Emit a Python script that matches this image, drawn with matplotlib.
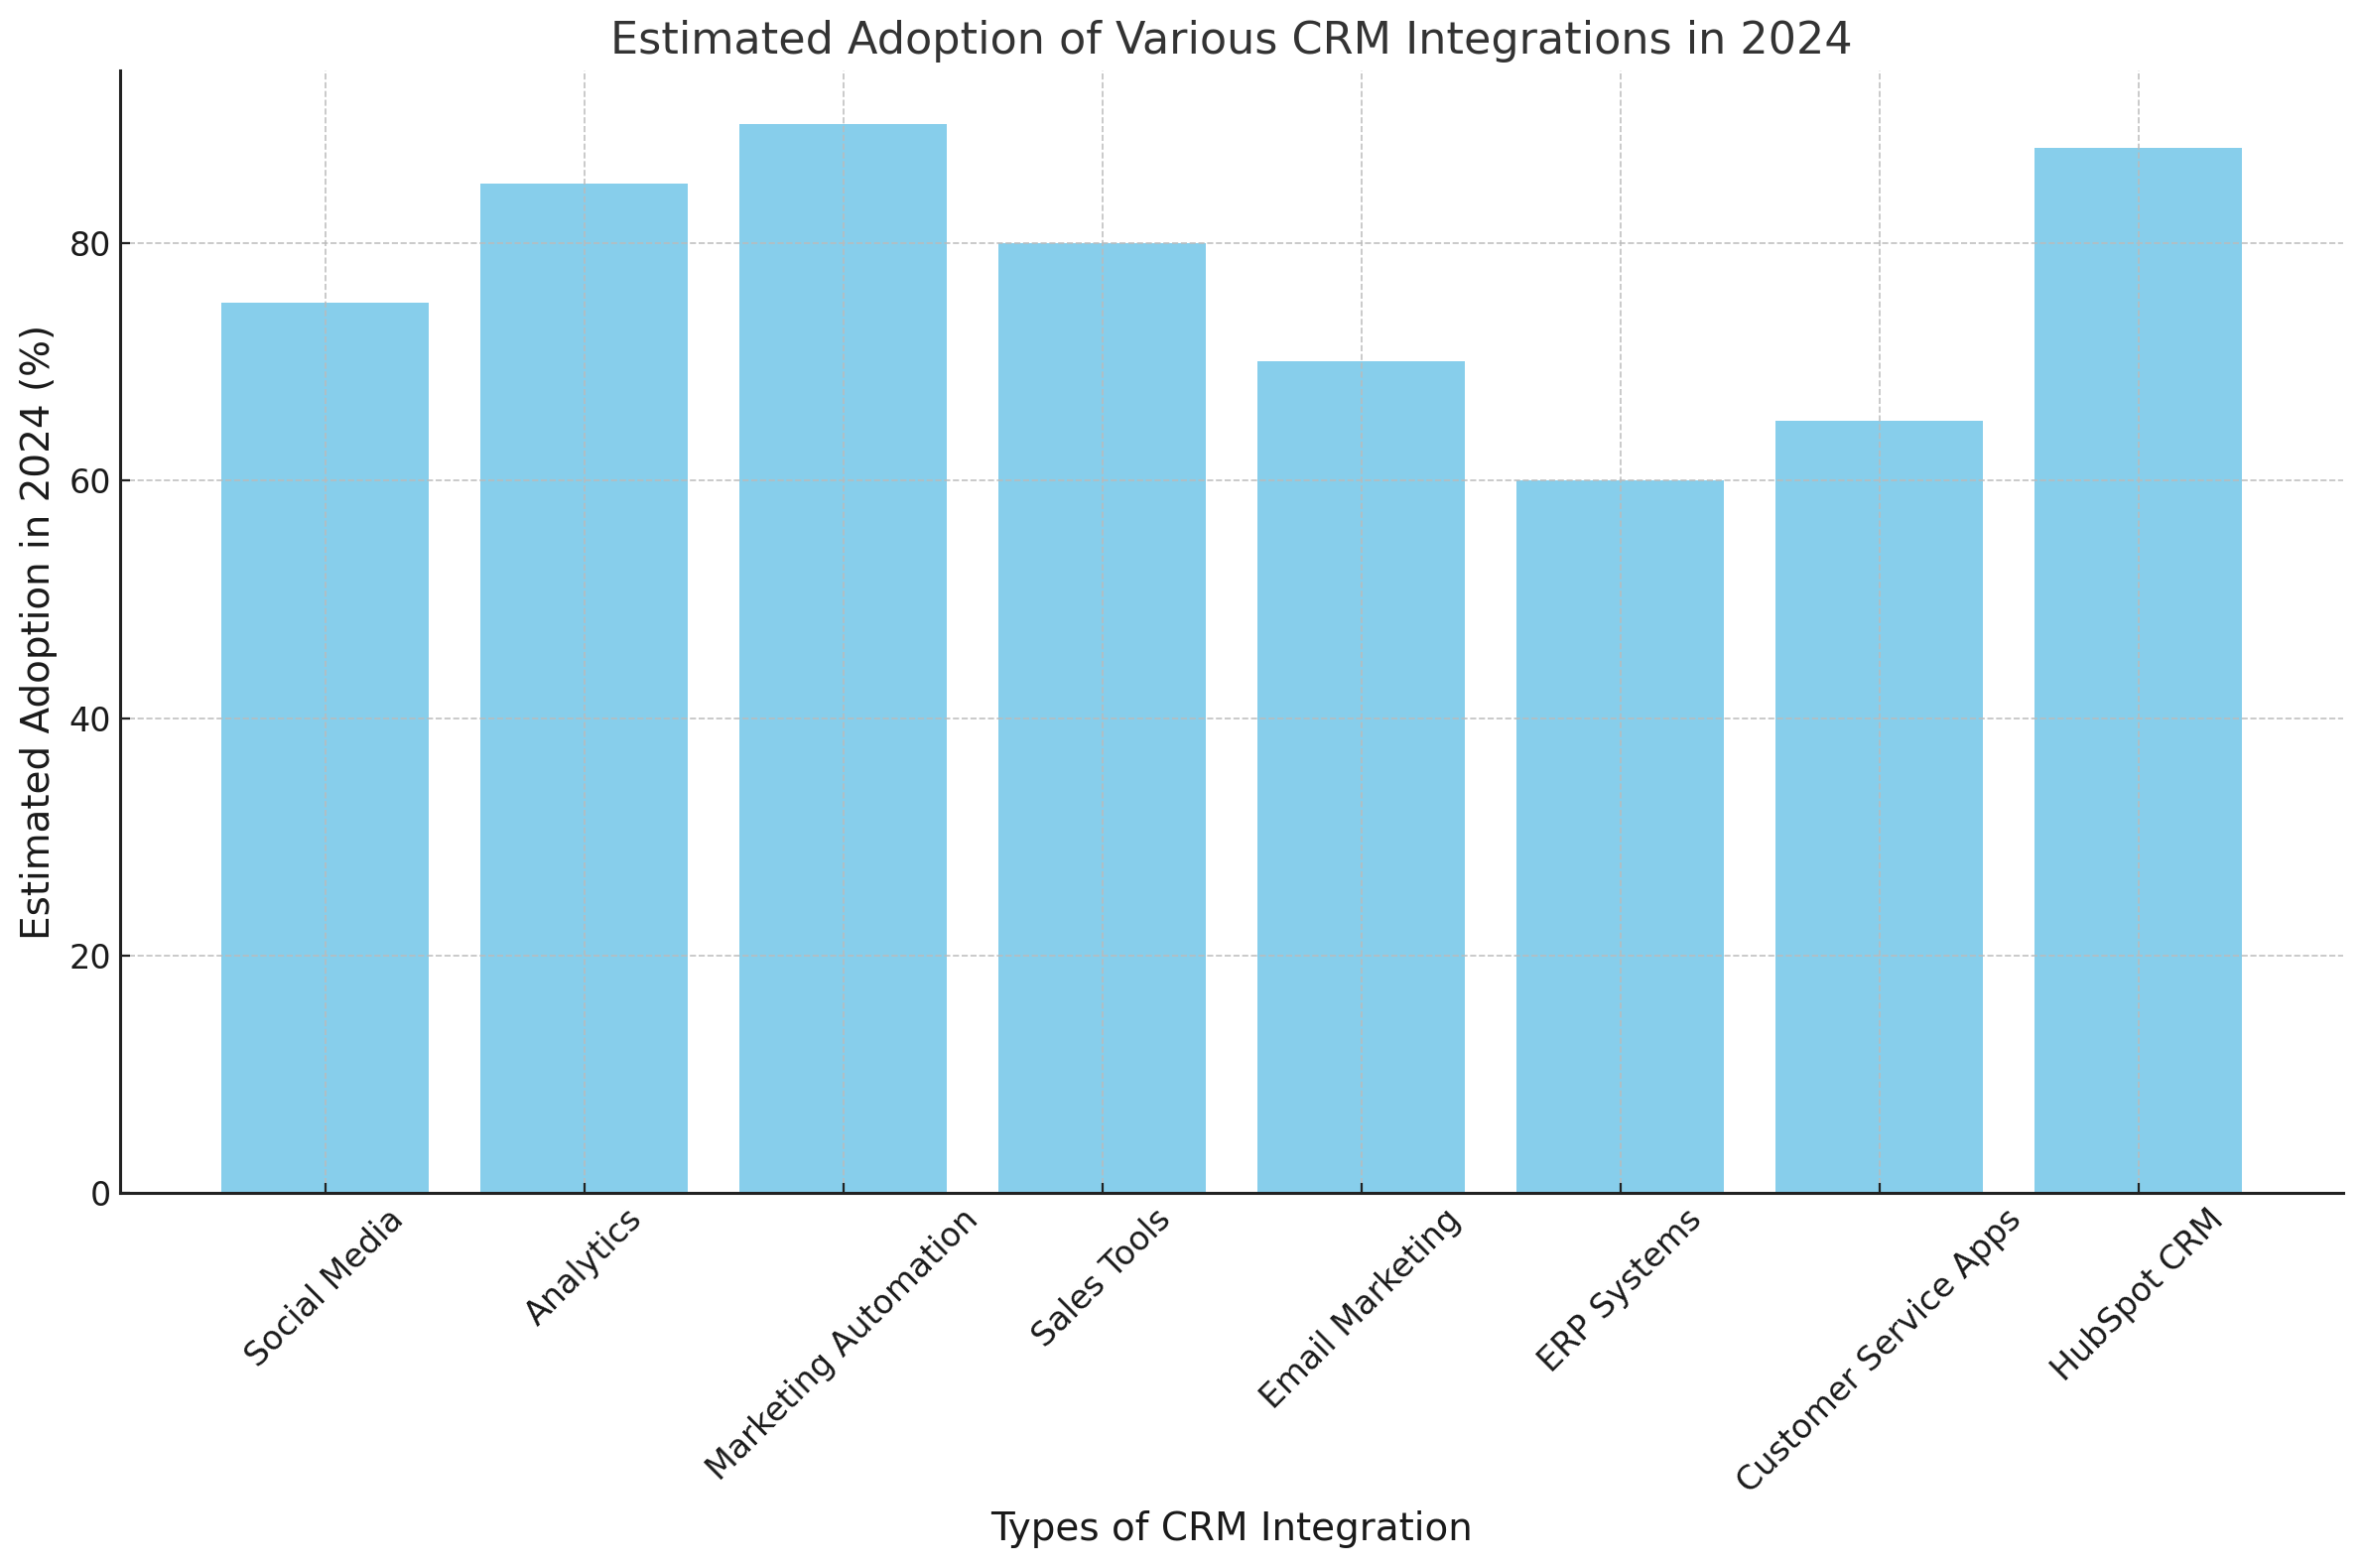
import matplotlib.pyplot as plt

categories = ['Social Media', 'Analytics', 'Marketing Automation', 'Sales Tools',
              'Email Marketing', 'ERP Systems', 'Customer Service Apps', 'HubSpot CRM']
adoption = [75, 85, 90, 80, 70, 60, 65, 88]

plt.rcParams['font.family'] = 'DejaVu Sans'
text_color = '#333333'

fig = plt.figure(figsize=(11.9, 7.9), dpi=200)
ax = fig.add_axes([0.051, 0.239, 0.941, 0.716])

ax.bar(categories, adoption, color='skyblue', width=0.8, zorder=1)

ax.set_title('Estimated Adoption of Various CRM Integrations in 2024', fontsize=16, color=text_color)
ax.set_xlabel('Types of CRM Integration', fontsize=14, color='#1a1a1a')
ax.set_ylabel('Estimated Adoption in 2024 (%)', fontsize=14, color='#1a1a1a')

ax.grid(True, linestyle='--', color='#bbbbbb', linewidth=0.6, alpha=0.9, zorder=0)
ax.set_axisbelow(False)
ax.tick_params(direction='in', labelsize=12, color='#222222', labelcolor='#1a1a1a')
plt.setp(ax.get_xticklabels(), rotation=45)

for side in ['top', 'right']:
    ax.spines[side].set_visible(False)
for side in ['left', 'bottom']:
    ax.spines[side].set_color('#222222')
    ax.spines[side].set_linewidth(1.1)
    ax.spines[side].set_zorder(3)

fig.savefig('out.png', dpi=200)
